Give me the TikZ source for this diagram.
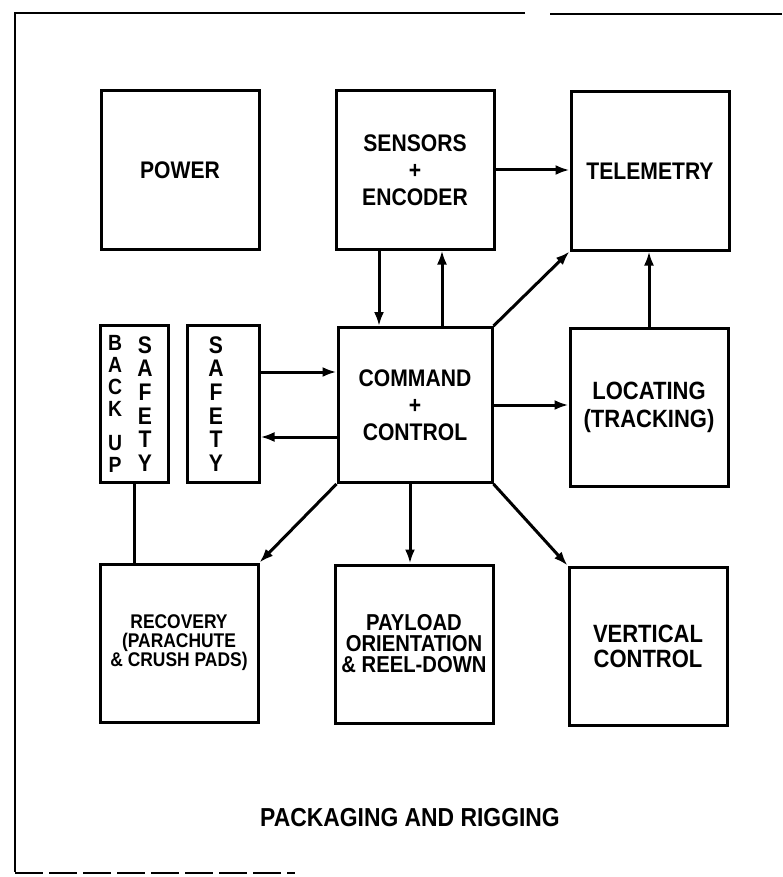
\documentclass[tikz,border=0pt]{standalone}
\usepackage{fontspec}
\setmainfont{Liberation Sans}
\newfontfamily\cond[FakeStretch=0.88]{Liberation Sans}
\usetikzlibrary{arrows.meta}

\begin{document}
\begin{tikzpicture}[x=0.5pt,y=-0.5pt,
  blk/.style={draw,line width=1.5pt,minimum width=79pt,minimum height=79pt,
    inner sep=0pt,align=center,font=\cond\bfseries\fontsize{12}{13.5}\selectfont},
  col/.style={draw,line width=1.5pt,minimum height=78.5pt,inner sep=0pt},
  ltr/.style={align=center,inner sep=0pt,font=\cond\bfseries\fontsize{12}{11.8}\selectfont},
  arr/.style={line width=1.5pt,-{Latex[length=7pt,width=5pt]}},
  lnk/.style={line width=1.5pt}]
\useasboundingbox (0,0) rectangle (782,877);

% Rahmen
\draw[line width=1.3pt] (525,13) -- (15,13) -- (15,872);
\draw[line width=1.3pt] (550,14) -- (782,14);
\draw[line width=1.3pt,dash pattern=on 14pt off 3pt] (15,873) -- (295,873);

% obere Reihe
\node[blk] (power) at (180,170) {POWER};
\node[blk] (sens) at (415,170) {SENSORS\\+\\ENCODER};
\node[blk] (tele) at (650,171) {TELEMETRY};

% mittlere Reihe
\node[col,minimum width=34pt] (bkup) at (134,404) {};
\node[ltr,font=\cond\bfseries\fontsize{11}{11}\selectfont] (bkupa) at (115,404) {B\\A\\C\\K\\[6pt]U\\P};
\node[ltr] (bkupb) at (145,404) {S\\A\\F\\E\\T\\Y};
\node[col,minimum width=36pt] (safe) at (223,404) {};
\node[ltr] (safea) at (216,404) {S\\A\\F\\E\\T\\Y};
\node[blk,minimum width=77pt,minimum height=77.5pt] (cmd) at (415,405) {COMMAND\\+\\CONTROL};
\node[blk,font=\cond\bfseries\fontsize{12.5}{14}\selectfont] (loc) at (649,407) {LOCATING\\(TRACKING)};

% untere Reihe
\node[blk,font=\cond\bfseries\fontsize{9.9}{9.5}\selectfont] (recov) at (179,643) {RECOVERY\\(PARACHUTE\\\& CRUSH PADS)};
\node[blk,font=\cond\bfseries\fontsize{11.5}{10.5}\selectfont] (pay) at (414,644) {PAYLOAD\\ORIENTATION\\\& REEL-DOWN};
\node[blk,font=\cond\bfseries\fontsize{12.5}{12.5}\selectfont] (vert) at (648,646) {VERTICAL\\CONTROL};

\node[font=\cond\bfseries\fontsize{13}{14}\selectfont] (pack) at (410,818) {PACKAGING AND RIGGING};

% Verbindungen
\draw[arr] (sens.east) -- (sens.east -| tele.west);
\draw[arr] ([xshift=-18pt]sens.south) -- ([xshift=-18pt]cmd.north);
\draw[arr] ([xshift=13.5pt]cmd.north) -- ([xshift=13.5pt]sens.south);
\draw[arr] (cmd.north east) -- (tele.south west);
\draw[arr] (loc.north) -- (loc.north |- tele.south);
\draw[arr] ([yshift=16pt]safe.east) -- ([yshift=16pt]safe.east -| cmd.west);
\draw[arr] ([yshift=-16pt]cmd.west) -- ([yshift=-16pt]cmd.west -| safe.east);
\draw[arr] (cmd.east) -- (cmd.east -| loc.west);
\draw[lnk] (bkup.south) -- (bkup.south |- recov.north);
\draw[arr] (cmd.south west) -- (recov.north east);
\draw[arr] ([xshift=-2.5pt]cmd.south) -- ([xshift=-2pt]pay.north);
\draw[arr] (cmd.south east) -- (vert.north west);
\end{tikzpicture}
\end{document}
